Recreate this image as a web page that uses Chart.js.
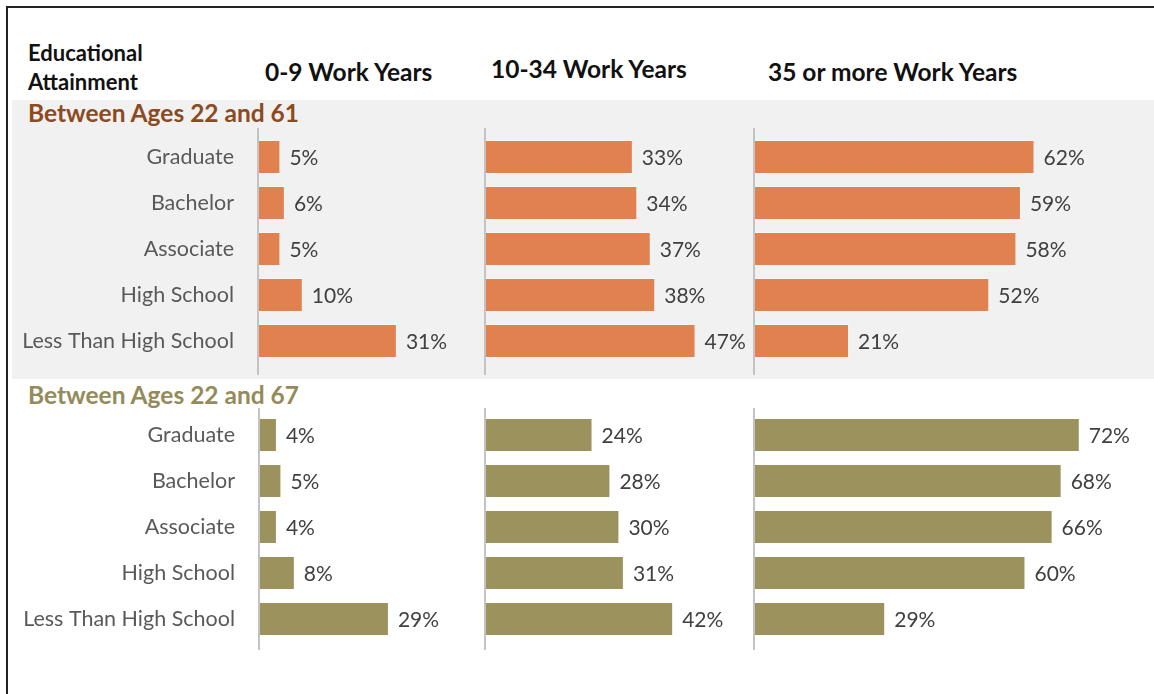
<!DOCTYPE html>
<html>
<head>
<meta charset="utf-8">
<script src="https://cdn.jsdelivr.net/npm/chart.js@4.4.0/dist/chart.umd.min.js"></script>
<style>
  body { margin: 0; background: #fff; font-family: Lato, "Open Sans", sans-serif; }
  #wrap { position: relative; width: 1154px; height: 694px; overflow: hidden; }
  #frame { position: absolute; left: 6px; top: 6px; width: 1160px; height: 700px;
           border-top: 2px solid #222; border-left: 2px solid #222; }
  #band { position: absolute; left: 12px; top: 100px; width: 1142px; height: 279px; background: #f1f1f1; }
  .txt { position: absolute; white-space: nowrap; }
  .head { font-weight: bold; font-size: 24.5px; line-height: 28px; color: #111; }
  canvas { position: absolute; }
</style>
</head>
<body>
<div id="wrap">
  <div id="frame"></div>
  <div id="band"></div>

  <div class="txt" style="left:28px;top:38px;font-weight:bold;font-size:22px;line-height:29px;color:#111;">Educational<br>Attainment</div>
  <div class="txt head" id="col0" style="left:265px;top:58px;"></div>
  <div class="txt head" id="col1" style="left:491px;top:55px;"></div>
  <div class="txt head" id="col2" style="left:768px;top:58px;"></div>

  <div class="txt head" id="sec0" style="left:28px;top:99px;color:#8c4a1e;"></div>
  <div class="txt head" id="sec1" style="left:28px;top:381px;color:#938b5a;"></div>

  <canvas id="c00" width="470" height="247" style="left:12px;top:128px;"></canvas>
  <canvas id="c01" width="265" height="247" style="left:481px;top:128px;"></canvas>
  <canvas id="c02" width="394" height="247" style="left:750px;top:128px;"></canvas>
  <canvas id="c10" width="470" height="242" style="left:13px;top:408px;"></canvas>
  <canvas id="c11" width="265" height="242" style="left:481px;top:408px;"></canvas>
  <canvas id="c12" width="394" height="242" style="left:750px;top:408px;"></canvas>
</div>

<script>
// categories and column / section titles
const categories = ['Graduate', 'Bachelor', 'Associate', 'High School', 'Less Than High School'];
const columnTitles = ['0-9 Work Years', '10-34 Work Years', '35 or more Work Years'];
const sectionTitles = ['Between Ages 22 and 61', 'Between Ages 22 and 67'];

// share of workers (%) by work years, ages 22-61
const ages61_0to9 = [5, 6, 5, 10, 31];
const ages61_10to34 = [33, 34, 37, 38, 47];
const ages61_35plus = [62, 59, 58, 52, 21];

// share of workers (%) by work years, ages 22-67
const ages67_0to9 = [4, 5, 4, 8, 29];
const ages67_10to34 = [24, 28, 30, 31, 42];
const ages67_35plus = [72, 68, 66, 60, 29];

const ORANGE = '#e0814f';
const OLIVE = '#9b925e';
const FONT = 'Lato, "Open Sans", sans-serif';

columnTitles.forEach((t, i) => document.getElementById('col' + i).textContent = t);
sectionTitles.forEach((t, i) => document.getElementById('sec' + i).textContent = t);

// gray axis line at zero, "NN%" after each bar, category names on the first column
const barDecor = {
  id: 'barDecor',
  afterDatasetsDraw(chart, args, opts) {
    const ctx = chart.ctx;
    const x0 = chart.scales.x.getPixelForValue(0);
    const yScale = chart.scales.y;
    ctx.save();
    ctx.strokeStyle = '#c3c3c3';
    ctx.lineWidth = 2;
    ctx.beginPath();
    ctx.moveTo(x0, 0);
    ctx.lineTo(x0, chart.height);
    ctx.stroke();

    ctx.textBaseline = 'middle';
    const ds = chart.data.datasets[0];
    chart.getDatasetMeta(0).data.forEach((bar, i) => {
      ctx.font = '21px ' + FONT;
      ctx.fillStyle = '#404040';
      ctx.textAlign = 'left';
      ctx.fillText(ds.data[i] + '%', bar.x + 9, bar.y + 1);
      if (opts.categoryLabels) {
        ctx.font = '21.5px ' + FONT;
        ctx.fillStyle = '#595959';
        ctx.textAlign = 'right';
        ctx.fillText(chart.data.labels[i], x0 - 24, yScale.getPixelForValue(i));
      }
    });
    ctx.restore();
  }
};

function makeChart(id, values, color, xMax, opts) {
  const first = opts.categoryLabels;
  return new Chart(document.getElementById(id), {
    type: 'bar',
    data: {
      labels: categories,
      datasets: [{
        data: values,
        backgroundColor: color,
        borderColor: 'rgba(255,255,255,0.35)',
        borderWidth: 1,
        categoryPercentage: 1,
        barPercentage: 0.74
      }]
    },
    options: {
      indexAxis: 'y',
      responsive: false,
      animation: false,
      devicePixelRatio: 1,
      layout: { padding: { top: opts.padTop, bottom: opts.padBottom, left: first ? 246 : 4, right: opts.padRight } },
      plugins: {
        legend: { display: false },
        tooltip: { enabled: false },
        barDecor: { categoryLabels: first }
      },
      scales: {
        x: { display: false, min: 0, max: xMax },
        y: { display: false }
      }
    },
    plugins: [barDecor]
  });
}

const upperPad = { padTop: 6, padBottom: 11 };
const lowerPad = { padTop: 4, padBottom: 8 };

makeChart('c00', ages61_0to9, ORANGE, 50, { ...upperPad, categoryLabels: true, padRight: 0 });
makeChart('c01', ages61_10to34, ORANGE, 50, { ...upperPad, categoryLabels: false, padRight: 37 });
makeChart('c02', ages61_35plus, ORANGE, 73.6, { ...upperPad, categoryLabels: false, padRight: 57 });
makeChart('c10', ages67_0to9, OLIVE, 50, { ...lowerPad, categoryLabels: true, padRight: 0 });
makeChart('c11', ages67_10to34, OLIVE, 50, { ...lowerPad, categoryLabels: false, padRight: 37 });
makeChart('c12', ages67_35plus, OLIVE, 73.6, { ...lowerPad, categoryLabels: false, padRight: 57 });
</script>
</body>
</html>
